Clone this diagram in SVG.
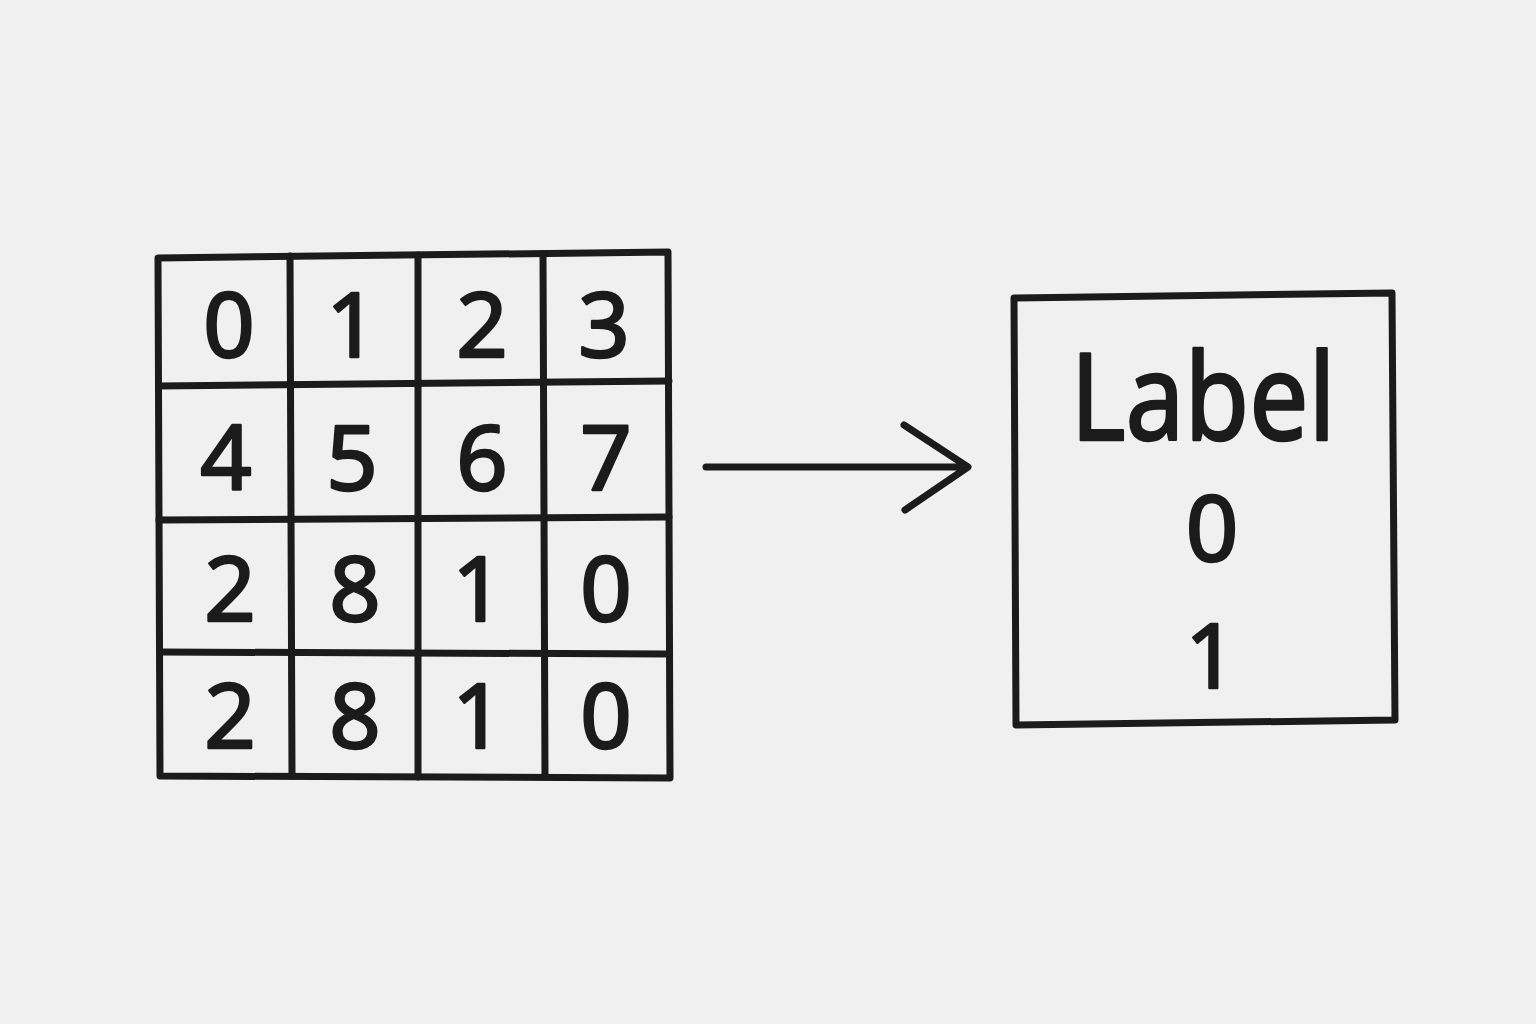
<svg xmlns="http://www.w3.org/2000/svg" width="1536" height="1024" viewBox="0 0 1536 1024">
<style>
.ln{fill:none;stroke:#1b1b1b;stroke-width:7;stroke-linecap:round;stroke-linejoin:round}
.d{font-family:"Noto Sans","Liberation Sans",sans-serif;font-size:90px;fill:#1b1b1b;stroke:#1b1b1b;stroke-width:2.5;stroke-linejoin:round;text-anchor:middle}
</style>
<rect width="1536" height="1024" fill="#f0f0f0"/>
<g id="grid">
<path class="ln" d="M158,258 L668,252 L670,778 L160,776 Z"/>
<path class="ln" d="M290,256 L292,776 M418,255 L418,777 M543,254 L545,777"/>
<path class="ln" d="M159,386 L669,381 M159,520 L669,517 M160,652 L669,654"/>
<text class="d" x="229" y="357">0</text>
<text class="d" x="352" y="357">1</text>
<text class="d" x="482" y="357">2</text>
<text class="d" x="604" y="357">3</text>
<text class="d" x="226" y="490">4</text>
<text class="d" x="352" y="490">5</text>
<text class="d" x="482" y="490">6</text>
<text class="d" x="606" y="490">7</text>
<text class="d" x="230" y="621">2</text>
<text class="d" x="355" y="621">8</text>
<text class="d" x="478" y="621">1</text>
<text class="d" x="606" y="621">0</text>
<text class="d" x="230" y="748">2</text>
<text class="d" x="355" y="748">8</text>
<text class="d" x="478" y="748">1</text>
<text class="d" x="606" y="748">0</text>
</g>
<g id="connectors">
<path class="ln" d="M706,467 L966,467 M904,425 L968,467 L905,510"/>
</g>
<g id="label-box">
<path class="ln" d="M1014,298 L1392,293 L1395,720 L1016,725 Z"/>
<text class="d" x="1203" y="440" style="font-size:120px" textLength="265" lengthAdjust="spacingAndGlyphs">Label</text>
<text class="d" x="1212" y="561" style="font-size:92px">0</text>
<text class="d" x="1211" y="688" style="font-size:90px">1</text>
</g>
</svg>
